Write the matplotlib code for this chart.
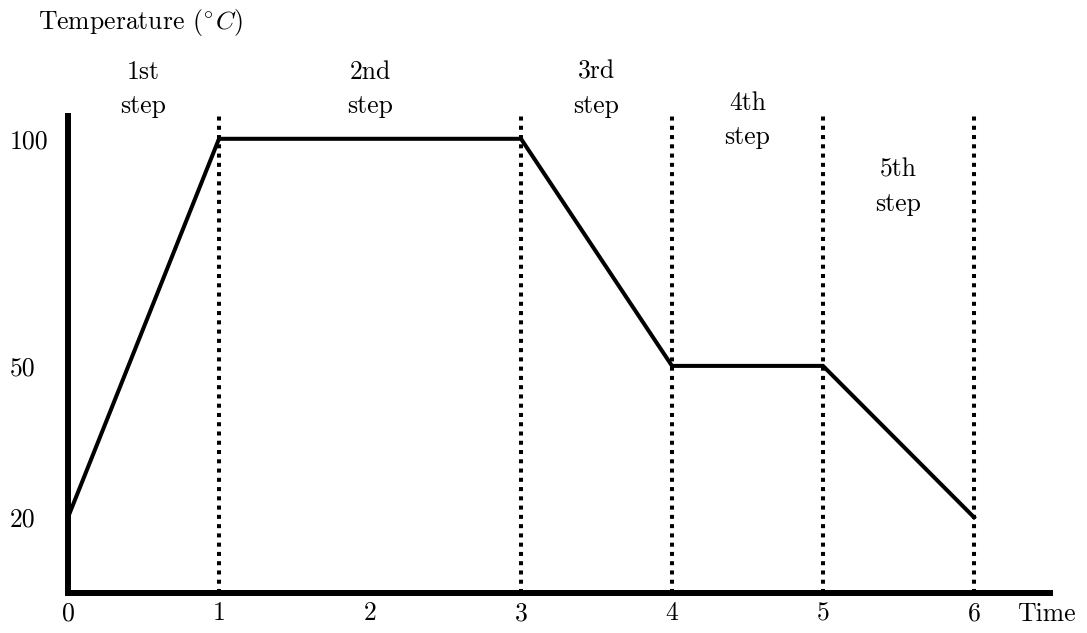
import numpy as np
import matplotlib
matplotlib.use("Agg")
import matplotlib.pyplot as plt

# ---- data ----
time_points = [0, 1, 3, 4, 5, 6]
temperatures = [20, 100, 100, 50, 50, 20]
step_bounds = [1, 3, 4, 5, 6]
x_ticks = [0, 1, 2, 3, 4, 5, 6]
x_tick_labels = ["0", "1", "2", "3", "4", "5", "6"]
y_ticks = [20, 50, 100]
y_tick_labels = ["20", "50", "100"]
step_labels = ["1st\nstep", "2nd\nstep", "3rd\nstep", "4th\nstep", "5th\nstep"]
step_label_x = [0.5, 2, 3.5, 4.5, 5.5]
step_label_y = [111, 111, 111, 104.2, 89.4]

plt.rcParams["font.family"] = ["cmr10", "DejaVu Serif"]
plt.rcParams["mathtext.fontset"] = "cm"
plt.rcParams["axes.formatter.use_mathtext"] = True

FS = 18.5

# schematic (piecewise-linear) temperature scale
_t = np.array([-200.0, 0.0, 20.0, 50.0, 100.0, 300.0])
_u = np.array([-10.0, 0.0, 1.0, 3.0, 6.0, 18.0])
def fwd(v):
    return np.interp(v, _t, _u)
def inv(v):
    return np.interp(v, _u, _t)

fig = plt.figure(figsize=(10.87, 6.33), dpi=100)
ax = fig.add_axes([0, 0, 1, 1])
ax.set_yscale("function", functions=(fwd, inv))
ax.set_xlim(-68 / 151, (1087 - 68) / 151)
ax.set_ylim(inv(-40 / 75.7), inv(593 / 75.7))

y_top = inv(6.3)
x_end = 6.5

for s in ["top", "right"]:
    ax.spines[s].set_visible(False)
for s in ["left", "bottom"]:
    ax.spines[s].set_position(("data", 0))
    ax.spines[s].set_linewidth(4.3)
    ax.spines[s].set_capstyle("projecting")
ax.spines["left"].set_bounds(0, y_top)
ax.spines["bottom"].set_bounds(0, x_end)

ax.set_xticks(x_ticks, x_tick_labels, fontsize=FS)
ax.set_yticks(y_ticks, y_tick_labels, fontsize=FS)
ax.minorticks_off()
ax.tick_params(axis="x", length=0, pad=6)
ax.tick_params(axis="y", length=0, pad=42)
for t in ax.get_yticklabels():
    t.set_horizontalalignment("left")

for b in step_bounds:
    ax.plot([b, b], [0, y_top], color="black", lw=2.9,
            linestyle=(0, (1, 1.3)), solid_capstyle="butt", zorder=2)

ax.plot(time_points, temperatures, color="black", lw=2.9,
        solid_joinstyle="miter", zorder=3)

for lbl, x, y in zip(step_labels, step_label_x, step_label_y):
    ax.text(x, y, lbl, ha="center", va="center", fontsize=FS,
            linespacing=1.55)

ax.text(-0.2, 125.7, r"Temperature $(^{\circ}\hspace{0.05}C)$", ha="left",
        va="center", fontsize=FS)
ax.text(6.48, -5.5, "Time", ha="center", va="center", fontsize=FS)

fig.savefig("out.png", dpi=100)
